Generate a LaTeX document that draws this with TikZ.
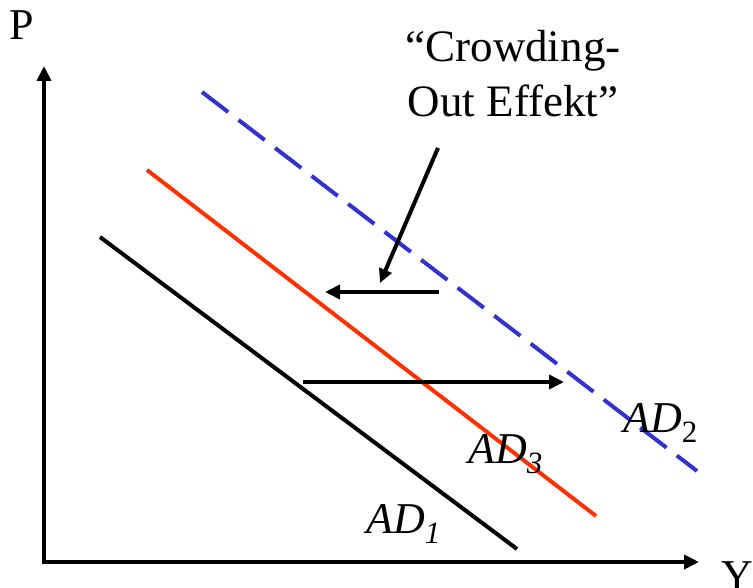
\documentclass[tikz,border=0pt]{standalone}
\usepackage{fontspec}
\setmainfont{Liberation Serif}
\usetikzlibrary{arrows.meta}
\newcommand\adlabel[1]{\textit{AD}\raisebox{-10pt}{\fontsize{31}{31}\selectfont #1}}
\tikzset{
  axisline/.style={line width=4.5pt,-{Triangle[length=15pt,width=14pt]}},
  curveline/.style={line width=4pt},
  shiftarrow/.style={line width=4.5pt,-{Triangle[length=15pt,width=14pt]}},
  lbl/.style={font=\fontsize{44}{55}\selectfont,inner sep=0pt,anchor=base west},
}
\begin{document}
\begin{tikzpicture}[x=1pt,y=-1pt]
\useasboundingbox (0,0) rectangle (753,588);
% axes
\coordinate (O) at (44,562);
\coordinate (Ptop) at (44,66);
\coordinate (Yend) at (699,562);
\draw[axisline] ([yshift=2pt]O) -- (Ptop);
\draw[axisline] ([xshift=-2pt]O) -- (Yend);
\node[lbl] (P) at (9,40) {P};
\node[lbl] (Y) at (721,590) {Y};
% curves
\coordinate (a1) at (100,237); \coordinate (b1) at (517,549);
\coordinate (a3) at (147,170); \coordinate (b3) at (596,516);
\coordinate (a2) at (202,92);  \coordinate (b2) at (697,471);
\draw[curveline,black] (a1) -- (b1);
\draw[curveline,color={rgb,255:red,255;green,51;blue,0}] (a3) -- (b3);
\draw[curveline,color={rgb,255:red,51;green,51;blue,204},dash pattern=on 33pt off 13pt] (a2) -- (b2);
% labels
\node[lbl] (AD1) at (366,533) {\adlabel{\textit{1}}};
\node[lbl] (AD3) at (468,463) {\adlabel{\textit{3}}};
\node[lbl] (AD2) at (623,432) {\adlabel{2}};
% shift arrows
\coordinate (l1) at (439,292); \coordinate (l2) at (325,292);
\coordinate (r1) at (303,382); \coordinate (r2) at (564,382);
\draw[shiftarrow] (l1) -- (l2);
\draw[shiftarrow] (r1) -- (r2);
% annotation
\node[font=\fontsize{45}{55}\selectfont,align=center,inner sep=0pt,anchor=base] (txt) at (513,117) {“Crowding-\\Out Effekt”};
\coordinate (d1) at (438,148); \coordinate (d2) at (380,283);
\draw[line width=4pt,-{Triangle[length=14pt,width=13pt]}] (d1) -- (d2);
\end{tikzpicture}
\end{document}
